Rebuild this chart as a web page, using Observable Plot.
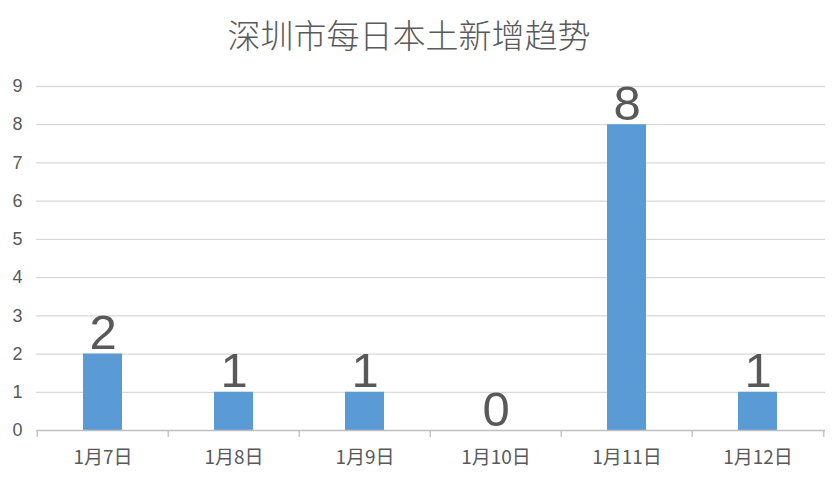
<!DOCTYPE html>
<html><head><meta charset="utf-8">
<script src="https://cdn.jsdelivr.net/npm/d3@7"></script>
<script src="https://cdn.jsdelivr.net/npm/@observablehq/plot@0.6"></script>
<style>
body{margin:0;background:#fff;font-family:"Liberation Sans","Noto Sans CJK SC",sans-serif;}
#title{height:68px;box-sizing:border-box;padding-top:14px;padding-right:18px;text-align:center;font-size:33px;line-height:40px;color:#595959;font-family:"Noto Sans CJK SC",sans-serif;font-weight:300;}
</style></head><body>
<div id="title">深圳市每日本土新增趋势</div>
<div id="chart"></div>
<script>
const categories = ["1月7日","1月8日","1月9日","1月10日","1月11日","1月12日"];
const values = [2, 1, 1, 0, 8, 1];
const yTicks = [0,1,2,3,4,5,6,7,8,9];

const data = categories.map((c,i)=>({date:c, value:values[i]}));
const W = 836, H = 412, mL = 36, mR = 11;
const step = (W - mL - mR) / categories.length;
const axisStroke = "#bfbfbf";

const chart = Plot.plot({
  width: W, height: H,
  marginTop: 18, marginBottom: 50, marginLeft: mL, marginRight: mR,
  style: {fontFamily: '"Liberation Sans","Noto Sans CJK SC",sans-serif', color: "#595959", background: "#fff"},
  x: {domain: categories, paddingInner: 0.7, paddingOuter: 0.35, label: null},
  y: {domain: [0, 9], label: null},
  marks: [
    Plot.ruleY(yTicks.filter(d=>d>0), {y: d=>d, stroke: "#d9d9d9", strokeWidth: 1.3}),
    Plot.axisY({ticks: yTicks, tickSize: 0, tickPadding: 14, fontSize: 18, fill: "#595959", tickFormat: d=>d}),
    Plot.axisX({tickSize: 0, tickPadding: 20, fontSize: 19, fill: "#595959", fontFamily: '"Noto Sans CJK SC",sans-serif'}),
    Plot.barY(data, {x: "date", y: "value", fill: "#5B9BD5"}),
    Plot.ruleY([0], {stroke: axisStroke, strokeWidth: 1.3}),
    Plot.ruleX(categories, {x: d=>d, y1: 0, y2: 0, dx: -step/2, insetBottom: -7, stroke: axisStroke, strokeWidth: 1.3}),
    Plot.ruleX(categories.slice(-1), {x: d=>d, y1: 0, y2: 0, dx: step/2, insetBottom: -7, stroke: axisStroke, strokeWidth: 1.3}),
    Plot.text(data, {x: "date", y: "value", text: d=>String(d.value), lineAnchor: "bottom", dy: -5, fontSize: 49, fill: "#595959", fontWeight: 300})
  ]
});
document.getElementById("chart").appendChild(chart);
</script>
</body></html>
